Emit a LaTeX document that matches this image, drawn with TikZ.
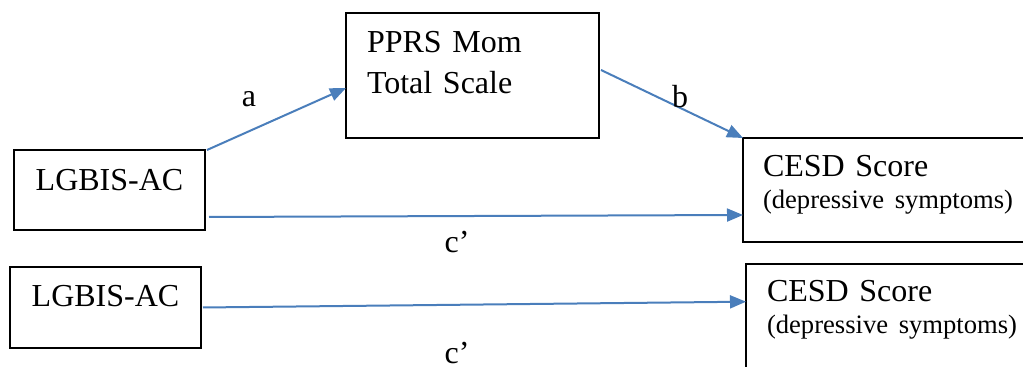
\documentclass[tikz,border=0pt]{standalone}
\usepackage{fontspec}
\setmainfont{Liberation Serif}
\usetikzlibrary{arrows.meta}
\definecolor{pathblue}{RGB}{74,126,187}
\tikzset{
  box/.style={draw, line width=0.9pt, outer sep=0pt, inner ysep=0pt, anchor=north west},
  path arrow/.style={draw=pathblue, line width=1pt, -{Triangle[length=8pt,width=6.5pt]}},
  coef/.style={anchor=base, inner sep=0pt, font=\fontsize{16}{16}\selectfont},
}
\begin{document}
\begin{tikzpicture}[x=0.5pt, y=-0.5pt]
    \clip (0,0) rectangle (1023,367);
    % mediation model: predictor, mediator, outcome
    \node[box, inner xsep=0pt, text width=95.5pt, align=center, text height=20.5pt, text depth=19.5pt,
      font=\fontsize{16}{16}\selectfont] (lgbis1) at (14,150) {LGBIS-AC};
    \node[box, inner xsep=10.5pt, text width=105.5pt, align=left, text height=20pt, text depth=42.5pt,
      font=\fontsize{16}{20.5}\selectfont] (pprs) at (346,13) {PPRS Mom\\Total Scale};
    \node[box, inner xsep=10pt, text width=131pt, align=left, text height=19.35pt, text depth=32.65pt,
      font=\fontsize{16}{16}\selectfont] (cesd1) at (743,138)
      {CESD Score\\{\fontsize{13.3}{16}\selectfont (depressive symptoms)}};
    % direct model
    \node[box, inner xsep=0pt, text width=95.5pt, align=center, text height=19.85pt, text depth=20.65pt,
      font=\fontsize{16}{16}\selectfont] (lgbis2) at (10,267) {LGBIS-AC};
    \node[box, inner xsep=10.5pt, text width=130pt, align=left, text height=18.85pt, text depth=49.15pt,
      font=\fontsize{16}{16}\selectfont] (cesd2) at (746,264)
      {CESD Score\\{\fontsize{13.3}{16}\selectfont (depressive symptoms)}};
    % paths
    \draw[path arrow] ([xshift=1pt]lgbis1.north east) -- ([yshift=-6.25pt]pprs.west);
    \draw[path arrow] ([xshift=1pt,yshift=2.75pt]pprs.east) -- (cesd1.north west);
    \draw[path arrow] ([xshift=2pt,yshift=-13.5pt]lgbis1.east) -- ([yshift=-12.5pt]cesd1.west);
    \draw[path arrow] ([xshift=1pt]lgbis2.east) -- ([yshift=-18.85pt]cesd2.north west);
    % path labels
    \node[coef] (lba) at (249,106.7) {a};
    \node[coef] (lbb) at (680,107.3) {b};
    \node[coef] (lbc1) at (457,253) {c’};
    \node[coef] (lbc2) at (457,363.5) {c’};
\end{tikzpicture}
\end{document}
